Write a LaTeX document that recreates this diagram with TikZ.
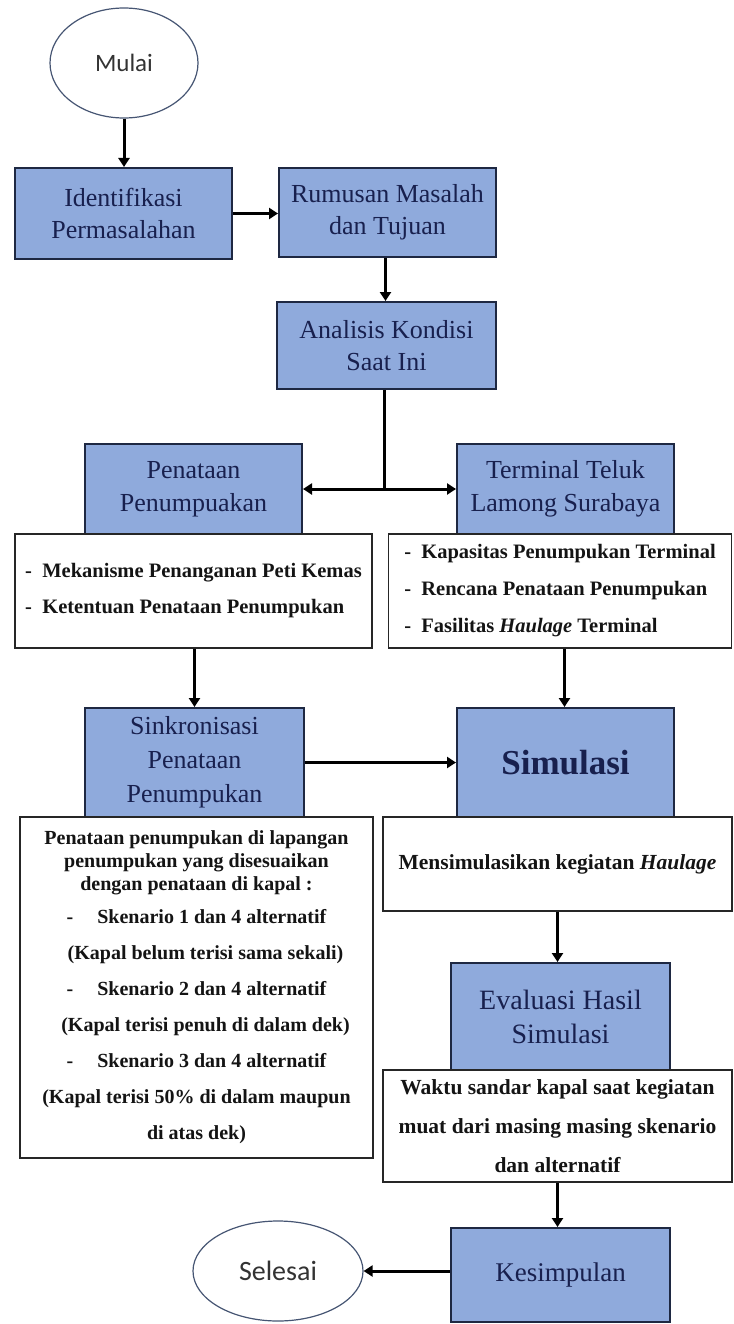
\documentclass[tikz,border=0pt]{standalone}
\usepackage{fontspec}
\setmainfont{Liberation Serif}
\newfontfamily\calibrifont{Carlito}
\usetikzlibrary{arrows.meta,shapes.geometric}
\definecolor{boxblue}{RGB}{143,170,220}
\definecolor{boxline}{RGB}{30,40,66}
\definecolor{navy}{RGB}{24,32,78}
\definecolor{ovalline}{RGB}{70,85,115}
\definecolor{subtext}{RGB}{20,20,20}
\tikzset{
  titlebox/.style={draw=boxline, line width=2pt, fill=boxblue, text=navy, inner sep=0pt, align=center, font=\fontsize{26}{32}\selectfont},
  subbox/.style={draw=black!85, line width=1.8pt, fill=white, text=subtext, inner sep=0pt, font=\bfseries\fontsize{20.5}{36}\selectfont},
  oval/.style={ellipse, draw=ovalline, line width=1.2pt, fill=white, inner sep=0pt, text=black!80},
  flow/.style={line width=3pt, -{Triangle[length=9pt,width=11pt]}},
  plainline/.style={line width=3pt}
}
\begin{document}
\begin{tikzpicture}[x=1pt,y=-1pt]
\useasboundingbox (0,0) rectangle (733,1324);
\fill[white] (0,0) rectangle (733,1324);

% ovals
\node[oval, minimum width=148pt, minimum height=110pt, font=\calibrifont\fontsize{25}{30}\selectfont] (mulai) at (124,63) {Mulai};
\node[oval, minimum width=170pt, minimum height=100pt, font=\calibrifont\fontsize{28}{32}\selectfont] (selesai) at (278,1271) {Selesai};

% title boxes
\node[titlebox, minimum width=217pt, minimum height=91pt] (iden) at (123.5,213.5) {Identifikasi\\Permasalahan};
\node[titlebox, minimum width=217pt, minimum height=89pt] (rumus) at (387.5,212.5) {Rumusan Masalah\\dan Tujuan};
\node[titlebox, minimum width=219pt, minimum height=87pt] (anal) at (386.5,345.5) {Analisis Kondisi\\Saat Ini};
\node[titlebox, minimum width=217pt, minimum height=90pt, font=\fontsize{26}{33}\selectfont] (pena) at (193.5,489) {Penataan\\Penumpuakan};
\node[titlebox, minimum width=217pt, minimum height=90pt, font=\fontsize{26}{33}\selectfont] (term) at (565.5,489) {Terminal Teluk\\Lamong Surabaya};
\node[titlebox, minimum width=219pt, minimum height=109pt, font=\fontsize{26}{34}\selectfont] (sink) at (194.5,762.5) {Sinkronisasi\\Penataan\\Penumpukan};
\node[titlebox, minimum width=217pt, minimum height=109pt, font=\bfseries\fontsize{35}{40}\selectfont] (simul) at (565.5,762.5) {Simulasi};
\node[titlebox, minimum width=219pt, minimum height=107pt, font=\fontsize{28}{34}\selectfont] (eval) at (560.5,1016.5) {Evaluasi Hasil\\Simulasi};
\node[titlebox, minimum width=219pt, minimum height=94pt, font=\fontsize{27}{32}\selectfont] (kesim) at (560.5,1275) {Kesimpulan};

% sub boxes
\node[subbox, minimum width=357pt, minimum height=114pt, align=left] (penasub) at (193.5,591)
  {- \ Mekanisme Penanganan Peti Kemas\\- \ Ketentuan Penataan Penumpukan};
\node[subbox, minimum width=343pt, minimum height=114pt, align=left, font=\bfseries\fontsize{20.5}{37}\selectfont] (termsub) at (560,591)
  {- \ Kapasitas Penumpukan Terminal\\- \ Rencana Penataan Penumpukan\\- \ Fasilitas \textit{Haulage} Terminal};
\node[subbox, minimum width=353pt, minimum height=341pt, align=center, font=\bfseries\fontsize{20}{23}\selectfont] (sinksub) at (196.5,987.5)
  {Penataan penumpukan di lapangan\\penumpukan yang disesuaikan\\dengan penataan di kapal :\\[10pt]
   -\hspace{24pt}Skenario 1 dan 4 alternatif\\[13pt]
   \hspace{18pt}(Kapal belum terisi sama sekali)\\[13pt]
   -\hspace{24pt}Skenario 2 dan 4 alternatif\\[13pt]
   \hspace{18pt}(Kapal terisi penuh di dalam dek)\\[13pt]
   -\hspace{24pt}Skenario 3 dan 4 alternatif\\[13pt]
   (Kapal terisi 50\% di dalam maupun\\[13pt]
   di atas dek)};
\node[subbox, minimum width=349pt, minimum height=94pt, align=center, font=\bfseries\fontsize{21.5}{36}\selectfont] (simsub) at (557.5,864)
  {Mensimulasikan kegiatan \textit{Haulage}};
\node[subbox, minimum width=349pt, minimum height=112pt, align=center, font=\bfseries\fontsize{21.5}{39}\selectfont] (evalsub) at (557.5,1126)
  {Waktu sandar kapal saat kegiatan\\muat dari masing masing skenario\\dan alternatif};

% connectors
\draw[flow] (mulai.south) -- (mulai.south |- iden.north);
\draw[flow] (iden.east) -- (rumus.west |- iden.east);
\draw[flow] ([xshift=-2pt]rumus.south) -- ([xshift=-2pt]rumus.south |- anal.north);
\coordinate (junc) at ([xshift=-2pt]anal.south |- pena.east);
\draw[plainline] ([xshift=-2pt]anal.south) -- (junc);
\draw[flow] (junc) -- (pena.east);
\draw[flow] (junc) -- (term.west);
\draw[flow] (penasub.south -| sink.north) -- (sink.north);
\draw[flow] ([xshift=-1pt]termsub.south -| simul.north) -- ([xshift=-1pt]simul.north);
\draw[flow] (sink.east) -- (simul.west);
\draw[flow] (simsub.south) -- (simsub.south |- eval.north);
\draw[flow] (evalsub.south) -- (evalsub.south |- kesim.north);
\draw[flow] (selesai.east -| kesim.west) -- (selesai.east);
\end{tikzpicture}
\end{document}
